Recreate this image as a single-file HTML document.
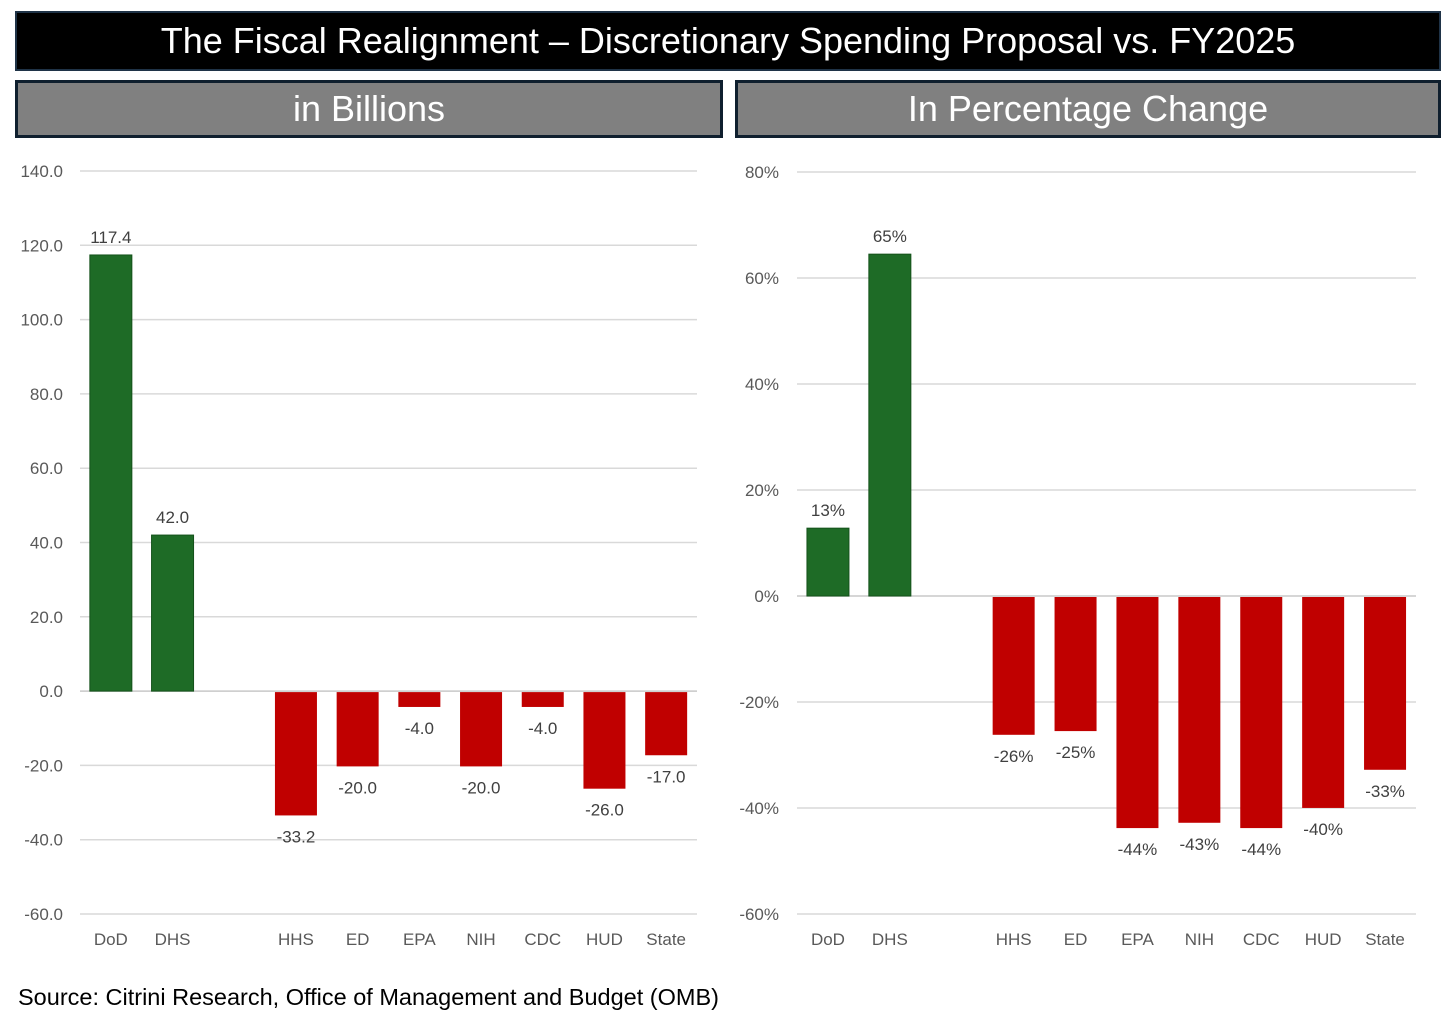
<!DOCTYPE html>
<html><head><meta charset="utf-8"><style>
body{margin:0;background:#fff;width:1456px;height:1029px;overflow:hidden;font-family:"Liberation Sans",sans-serif;position:relative}
.bar{position:absolute;color:#fff;display:flex;align-items:center;justify-content:center;box-sizing:border-box}
#title{left:15px;top:11px;width:1426px;height:60px;background:#000;border:2px solid #1f3347;font-size:36px}
.sub{top:80px;height:58px;background:#808080;border:3px solid #0f1f2e;font-size:36px}
#src{position:absolute;left:18px;top:984px;font-size:23.5px;color:#000}
svg{position:absolute;left:0;top:0}
</style></head><body>
<div id="title" class="bar">The Fiscal Realignment – Discretionary Spending Proposal vs. FY2025</div>
<div class="bar sub" style="left:15px;width:708px">in Billions</div>
<div class="bar sub" style="left:735px;width:706px">In Percentage Change</div>
<div id="src">Source: Citrini Research, Office of Management and Budget (OMB)</div>
<svg id="chart" width="1456" height="1029"></svg>
<script>
const categories=["DoD","DHS","","HHS","ED","EPA","NIH","CDC","HUD","State"];
const billions=[117.4,42.0,null,-33.2,-20.0,-4.0,-20.0,-4.0,-26.0,-17.0];
const billionTicks=[140,120,100,80,60,40,20,0,-20,-40,-60];
const pctValues=[12.8,64.5,null,-26,-25.3,-43.6,-42.6,-43.6,-39.8,-32.6];
const pctTicks=[80,60,40,20,0,-20,-40,-60];
const NS="http://www.w3.org/2000/svg";
const svg=document.getElementById('chart');
function mk(t,a,txt){const e=document.createElementNS(NS,t);for(const k in a)e.setAttribute(k,a[k]);if(txt!==undefined)e.textContent=txt;svg.appendChild(e);return e;}
function draw(cfg){
  const y=v=>cfg.top+(cfg.max-v)/(cfg.max-cfg.min)*(cfg.bot-cfg.top);
  const slot=(cfg.x1-cfg.x0)/categories.length;
  const x=i=>cfg.x0+slot*(i+0.5);
  cfg.ticks.forEach(t=>{
    const g=mk('line',{x1:cfg.x0,x2:cfg.x1,y1:y(t),y2:y(t),stroke:t===0?'#c8c8c8':'#d9d9d9','stroke-width':1.5});
    
    
    const l=mk('text',{x:cfg.labelX,y:y(t)+6,'text-anchor':'end','font-size':17,fill:'#595959'},cfg.fmtTick(t));
    
    
  });
  cfg.vals.forEach((v,i)=>{
    if(v===null)return;
    const pos=v>=0;
    const b=mk('rect',{x:x(i)-21,width:42,y:pos?y(v):y(0)+1,height:Math.abs(y(v)-y(0)),fill:pos?'#1e6b26':'#c00000',stroke:pos?'#14521b':'none'});
    
    
    const l=mk('text',{x:x(i),y:pos?y(v)-12:y(v)+28,'text-anchor':'middle','font-size':17,fill:'#404040'},cfg.fmtVal(v));
    
    
  });
  categories.forEach((c,i)=>{
    const l=mk('text',{x:x(i),y:cfg.bot+31,'text-anchor':'middle','font-size':17,fill:'#595959'},c);
    
    
  });
}
draw({x0:80,x1:697,top:171,bot:914,max:140,min:-60,ticks:billionTicks,vals:billions,labelX:63,fmtTick:t=>t.toFixed(1),fmtVal:v=>v.toFixed(1)});
draw({x0:797,x1:1416,top:172,bot:914,max:80,min:-60,ticks:pctTicks,vals:pctValues,labelX:779,fmtTick:t=>t+'%',fmtVal:v=>Math.round(v)+'%'});
</script>
</body></html>
